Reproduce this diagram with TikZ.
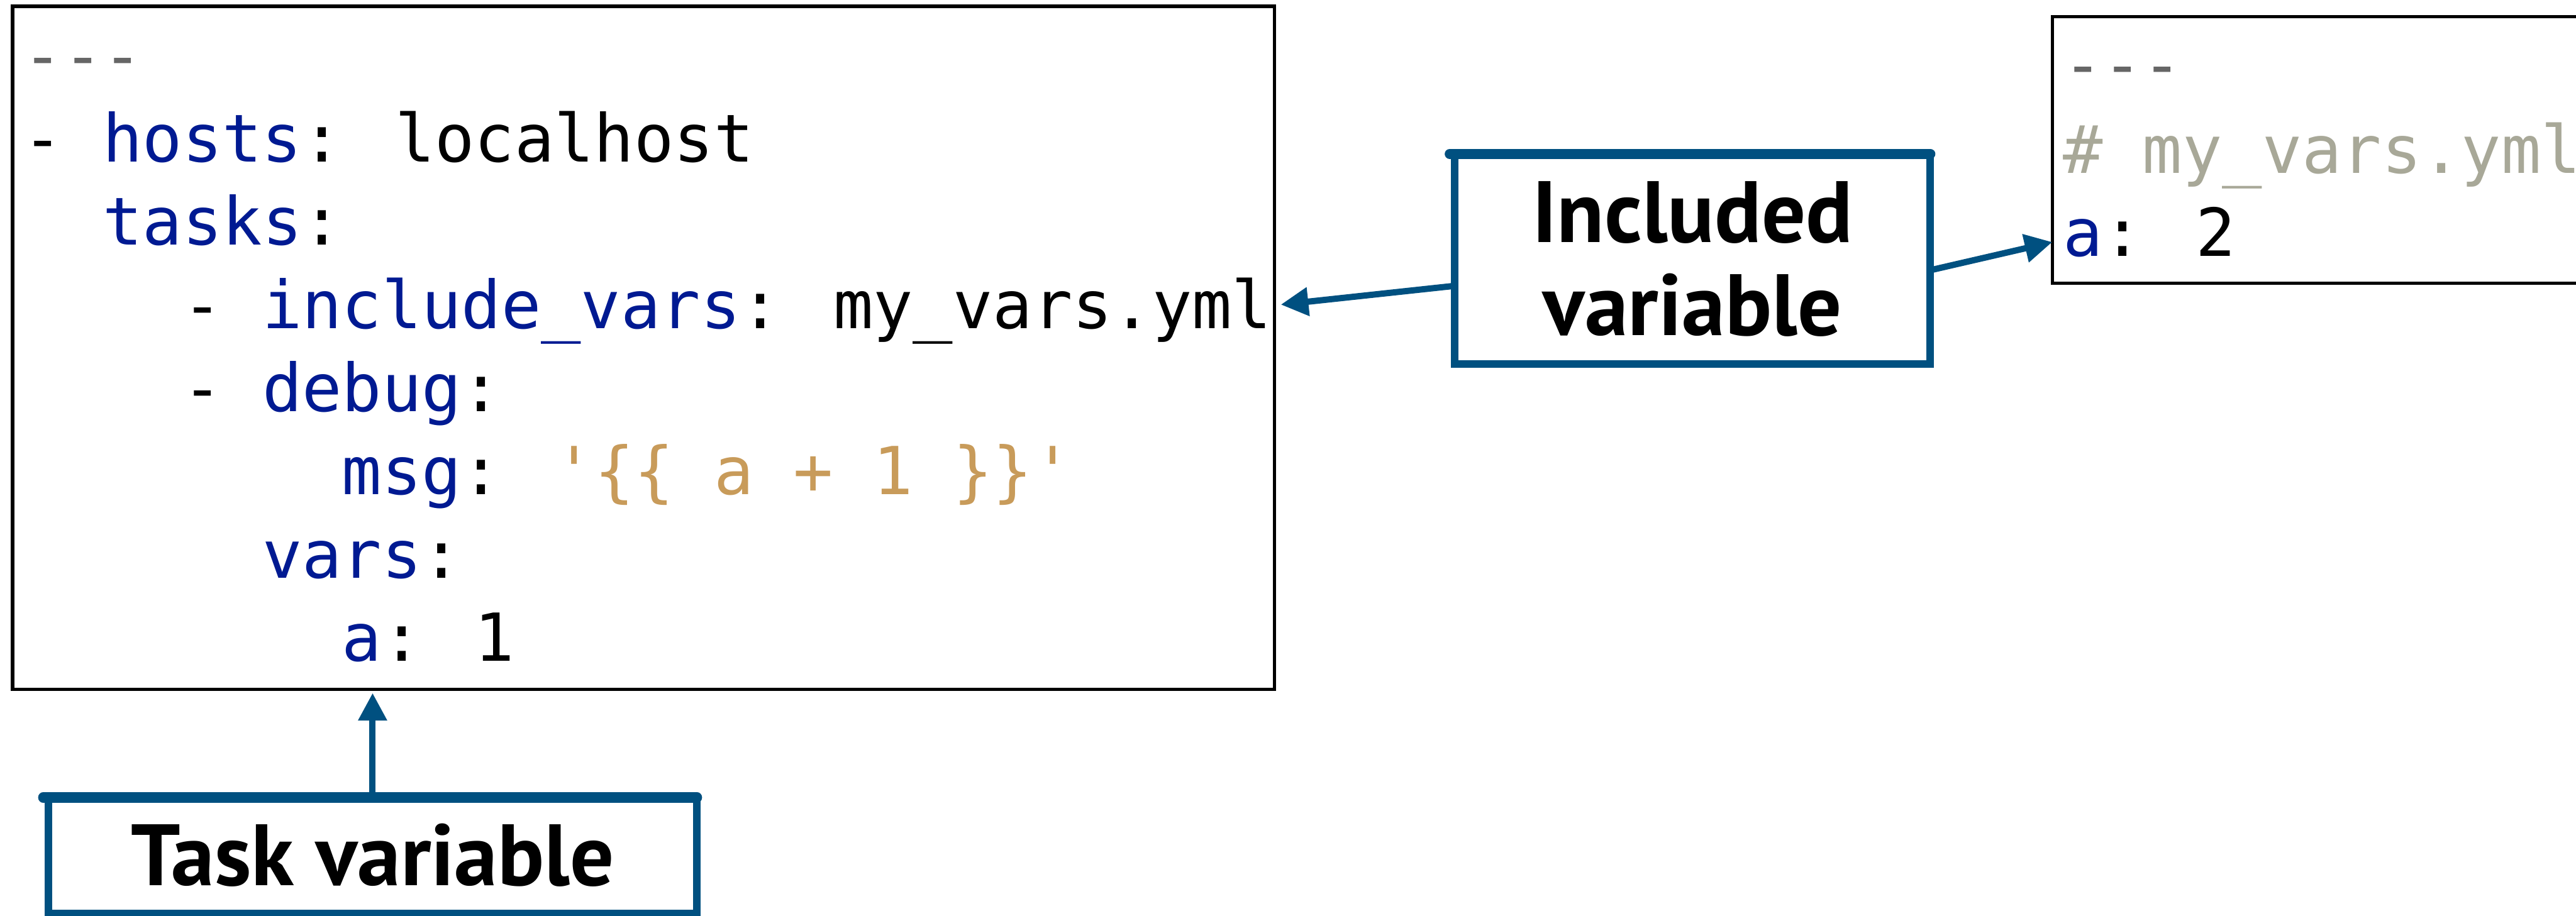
\documentclass[tikz,border=0pt]{standalone}
\usepackage{fontspec}
\usetikzlibrary{arrows.meta,calc}
\newfontfamily\codefont{DejaVu Sans Mono}
\newfontfamily\labelfont{PT Sans}
\definecolor{keyblue}{RGB}{0,26,146}
\definecolor{strtan}{RGB}{200,155,90}
\definecolor{cmtgray}{RGB}{168,168,152}
\definecolor{dashgray}{RGB}{102,102,102}
\definecolor{accent}{RGB}{0,80,128}
\newcommand\yk[1]{\textcolor{keyblue}{#1}}
\newcommand\ys[1]{\textcolor{strtan}{#1}}
\begin{document}
\begin{tikzpicture}[
  codeline/.style={anchor=base west, inner sep=0pt, outer sep=0pt, font=\codefont\fontsize{30.1}{37.8}\selectfont},
  codebox/.style={draw=black, line width=1.5pt, inner sep=0pt, outer sep=0pt},
  labelbox/.style={draw=accent, line width=3.4pt, inner sep=0pt, outer sep=0pt, align=center, font=\labelfont\bfseries\fontsize{39.6}{42.4}\selectfont},
  topstroke/.style={draw=accent, line width=4.6pt, line cap=round},
  conn/.style={draw=accent, line width=2.85pt, -{Triangle[length=0.44cm,width=0.44cm]}}
]
\path[use as bounding box] (0,0) rectangle (41.17,-14.64);
\clip (0,0) rectangle (41.17,-14.64);

% main code box
\node[codebox, minimum width=20.17cm, minimum height=10.92cm] (main) at (10.285,-5.56) {};
\node[codeline, text=dashgray] (m1) at (0.37,-1.26) {-{}-{}-};
\node[codeline] (m2) at (0.37,-2.59) {- \yk{hosts}: localhost};
\node[codeline] (m3) at (1.644,-3.92) {\yk{tasks}:};
\node[codeline] (m4) at (2.918,-5.25) {- \yk{include\_vars}: my\_vars.yml};
\node[codeline] (m5) at (2.918,-6.58) {- \yk{debug}:};
\node[codeline] (m6) at (5.466,-7.91) {\yk{msg}: \ys{\textquotesingle\{\{ a + 1 \}\}\textquotesingle}};
\node[codeline] (m7) at (4.192,-9.24) {\yk{vars}:};
\node[codeline] (m8) at (5.466,-10.57) {\yk{a}: 1};

% right code box (cut off at the right edge)
\node[codebox, minimum width=10.2cm, minimum height=4.26cm] (rbox) at (37.90,-2.40) {};
\node[codeline, text=dashgray] (r1) at (32.97,-1.40) {-{}-{}-};
\node[codeline, text=cmtgray] (r2) at (32.97,-2.77) {\# my\_vars.yml};
\node[codeline] (r3) at (32.97,-4.10) {\yk{a}: 2};

% label boxes
\node[labelbox, minimum width=7.60cm, minimum height=3.36cm] (inc) at (27.05,-4.14) {Included\\variable};
\draw[topstroke] ([xshift=-0.08cm]inc.north west) -- (inc.north east);
\node[labelbox, minimum width=10.37cm, minimum height=1.85cm] (task) at (5.955,-13.675) {Task variable};
\draw[topstroke] ([xshift=-0.08cm]task.north west) -- (task.north east);

% connectors
\draw[conn] ([yshift=-0.43cm]inc.west) -- ([xshift=0.10cm,yshift=0.69cm]main.east);
\draw[conn] ([yshift=-0.18cm]inc.east) -- ([yshift=-1.47cm]rbox.west);
\draw[conn] (task.north) -- ($(task.north |- main.south)+(0,-0.06)$);
\end{tikzpicture}
\end{document}
